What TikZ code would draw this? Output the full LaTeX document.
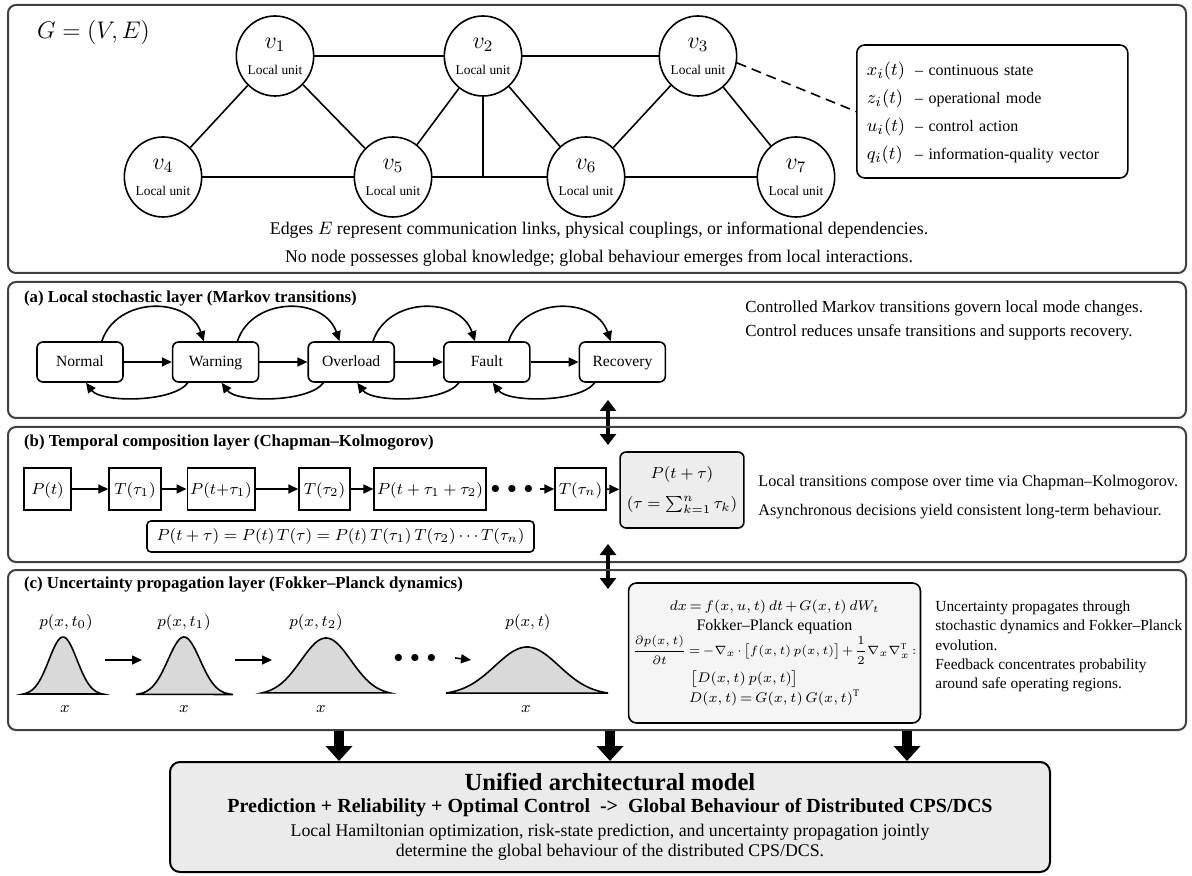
\documentclass[tikz,border=0pt]{standalone}
\usepackage{amsmath}
\usepackage{fontspec}
\setmainfont{Liberation Serif}
\usetikzlibrary{arrows.meta,positioning,shapes.geometric}

\newcommand{\fsize}[2]{\fontsize{#1}{#2}\selectfont}
\newcommand{\unitlabel}[1]{{\fsize{11.5}{12}$v_{#1}$}\\[1pt]{\fsize{6.7}{8}Local unit}}

\begin{document}
\begin{tikzpicture}[
        x=0.5pt, y=-0.5pt,
        panel/.style={
            draw=black!75,
            line width=1pt,
            rounded corners=4pt
        },
        unit/.style={
            draw,
            ellipse,
            line width=0.8pt,
            minimum width=35pt,
            minimum height=40pt,
            inner sep=0pt,
            align=center
        },
        link/.style={
            line width=0.8pt
        },
        heading/.style={
            anchor=west,
            font=\fsize{8.4}{10}\bfseries
        },
        note/.style={
            anchor=west,
            align=left,
            inner sep=0pt,
            font=\fsize{8}{12}
        },
        state/.style={
            draw,
            rounded corners=3pt,
            line width=0.8pt,
            minimum width=43pt,
            minimum height=20pt,
            text height=0.7em,
            text depth=0.2em,
            font=\fsize{7.8}{9}
        },
        cell/.style={
            draw,
            line width=0.7pt,
            minimum height=21pt,
            inner sep=1.5pt,
            text height=0.75em,
            text depth=0.25em,
            font=\fsize{8}{9}
        },
        flow/.style={
            -{Triangle[length=5pt,width=4.5pt]},
            line width=0.8pt
        },
        dbl/.style={
            {Triangle[length=5.5pt,width=8pt]}-{Triangle[length=5.5pt,width=8pt]},
            line width=1.8pt
        },
        bigarrow/.style={
            -{Triangle[length=7.5pt,width=13pt]},
            line width=5pt
        },
        bell/.style={
            fill=black!15,
            draw,
            line width=0.8pt
        },
        plabel/.style={
            font=\fsize{8.5}{10}
        }
    ]

        \fill[white] (0,0) rectangle (1192,876);
        \useasboundingbox (0,0) rectangle (1192,876);

        % network of local units
        \draw[panel] (8,5) rectangle (1186,273);

        \node[anchor=west, font=\fsize{11.5}{13}] (graphname) at (30,33)
            {$G = (V, E)$};

        \node[unit] (v1) at (275,56) {\unitlabel{1}};
        \node[unit] (v2) at (483,56) {\unitlabel{2}};
        \node[unit] (v3) at (698,56) {\unitlabel{3}};
        \node[unit] (v4) at (163,177) {\unitlabel{4}};
        \node[unit] (v5) at (393,177) {\unitlabel{5}};
        \node[unit] (v6) at (586,177) {\unitlabel{6}};
        \node[unit] (v7) at (796,177) {\unitlabel{7}};

        \draw[link] (v1) -- (v2) -- (v3);
        \draw[link] (v4) -- (v5) -- (v6) -- (v7);
        \draw[link] (v1) -- (v4);
        \draw[link] (v1) -- (v5);
        \draw[link] (v2) -- (v5);
        \draw[link] (v2) -- (v6);
        \draw[link] (v3) -- (v6);
        \draw[link] (v3) -- (v7);
        \draw[link] (v2.south) -- (v2.south |- v5.center);

        \node[draw, rounded corners=4pt, line width=0.8pt,
              minimum height=66.5pt, inner xsep=5pt, text width=125.5pt,
              anchor=west, font=\fsize{8}{10}] (legend) at (856,111.5)
            {\noindent\renewcommand{\arraystretch}{1.4}%
             \begin{tabular}{@{}l@{\hspace{5pt}}l@{}}
             {\fsize{9.5}{10}$x_i(t)$} & – continuous state\\
             {\fsize{9.5}{10}$z_i(t)$} & – operational mode\\
             {\fsize{9.5}{10}$u_i(t)$} & – control action\\
             {\fsize{9.5}{10}$q_i(t)$} & – information-quality vector
             \end{tabular}};

        \draw[link, dash pattern=on 5pt off 3pt] (v3.-10) -- (legend.west);

        \node[align=center, font=\fsize{8.9}{14}] (edgesnote) at (599,244)
            {Edges $E$ represent communication links, physical couplings, or informational dependencies.\\
             No node possesses global knowledge; global behaviour emerges from local interactions.};

        % (a) Markov layer
        \draw[panel] (8,282) rectangle (1186,418);

        \node[heading] (atitle) at (17,298)
            {(a) Local stochastic layer (Markov transitions)};

        \node[state] (normal) at (80,362) {Normal};
        \node[state, right=24pt of normal] (warning) {Warning};
        \node[state, right=24pt of warning] (overload) {Overload};
        \node[state, right=24pt of overload] (fault) {Fault};
        \node[state, right=24pt of fault] (recovery) {Recovery};

        \draw[flow] (normal) -- (warning);
        \draw[flow] (warning) -- (overload);
        \draw[flow] (overload) -- (fault);
        \draw[flow] (fault) -- (recovery);

        \draw[flow] ([xshift=-11pt]normal.north east)
            .. controls +(15,-45) and +(-15,-45) .. ([xshift=16pt]warning.north west);
        \draw[flow] ([xshift=-11pt]warning.north east)
            .. controls +(15,-45) and +(-15,-45) .. ([xshift=16pt]overload.north west);
        \draw[flow] ([xshift=-11pt]overload.north east)
            .. controls +(15,-45) and +(-15,-45) .. ([xshift=16pt]fault.north west);
        \draw[flow] ([xshift=-11pt]fault.north east)
            .. controls +(15,-45) and +(-15,-45) .. ([xshift=16pt]recovery.north west);

        \draw[flow] ([xshift=8pt]warning.south west)
            .. controls +(-15,20) and +(15,20) .. ([xshift=3pt]normal.south);
        \draw[flow] ([xshift=8pt]overload.south west)
            .. controls +(-15,20) and +(15,20) .. ([xshift=3pt]warning.south);
        \draw[flow] ([xshift=8pt]fault.south west)
            .. controls +(-15,20) and +(15,20) .. ([xshift=3pt]overload.south);
        \draw[flow] ([xshift=8pt]recovery.south west)
            .. controls +(-15,20) and +(15,20) .. ([xshift=3pt]fault.south);

        \node[note, font=\fsize{8.45}{12}] (anote) at (745,320)
            {Controlled Markov transitions govern local mode changes.\\
             Control reduces unsafe transitions and supports recovery.};

        \coordinate (abup) at (608,400);
        \coordinate (abdown) at (608,445);
        \draw[dbl] (abup) -- (abdown);

        % (b) Chapman-Kolmogorov layer
        \draw[panel] (8,427) rectangle (1186,562);

        \node[heading] (btitle) at (17,443)
            {(b) Temporal composition layer (Chapman–Kolmogorov)};

        \node[cell, minimum width=23.5pt] (pt0) at (47.5,489) {$P(t)$};
        \node[cell, minimum width=26pt] (tau1) at (135,489) {$T(\tau_1)$};
        \node[cell, minimum width=24pt] (pt1) at (221,489) {$P(t{+}\tau_1)$};
        \node[cell, minimum width=25.5pt] (tau2) at (324.5,489) {$T(\tau_2)$};
        \node[cell, minimum width=45pt] (pt2) at (430,489) {$P(t+\tau_1+\tau_2)$};
        \node[font=\fsize{9}{10}] (bdots) at (512,489) {$\bullet\,\bullet\,\bullet$};
        \node[cell, minimum width=25.5pt] (taun) at (580.5,489) {$T(\tau_n)$};
        \node[draw, fill=black!7, rounded corners=3pt, line width=0.8pt,
              minimum width=54pt, minimum height=38pt, align=center,
              font=\fsize{8.5}{12}] (ptau) at (682,490)
            {$P(t+\tau)$\\[3pt] $(\tau = \sum_{k=1}^{n}\tau_k)$};

        \draw[flow] (pt0) -- (tau1);
        \draw[flow] (tau1) -- (pt1);
        \draw[flow] (pt1) -- (tau2);
        \draw[flow] (tau2) -- (pt2);
        \draw[flow] (bdots) -- (taun);
        \draw[flow] (taun) -- (ptau);

        \node[draw, rounded corners=2pt, line width=0.8pt,
              minimum width=193.5pt, minimum height=15.5pt,
              font=\fsize{8.5}{10}] (ckeq) at (340.5,536.5)
            {$P(t+\tau) = P(t)\,T(\tau) = P(t)\,T(\tau_1)\,T(\tau_2)\cdots T(\tau_n)$};

        \node[note, font=\fsize{8.1}{14.5}] (bnote) at (758,497.5)
            {Local transitions compose over time via Chapman–Kolmogorov.\\
             Asynchronous decisions yield consistent long-term behaviour.};

        \coordinate (bcup) at (608,544);
        \coordinate (bcdown) at (608,589);
        \draw[dbl] (bcup) -- (bcdown);

        % (c) Fokker-Planck layer
        \draw[panel] (8,570) rectangle (1186,730);

        \node[heading] (ctitle) at (17,585)
            {(c) Uncertainty propagation layer (Fokker–Planck dynamics)};

        \node[plabel] (pt0lbl) at (66,622) {$p(x,t_0)$};
        \node[plabel] (pt1lbl) at (184,622) {$p(x,t_1)$};
        \node[plabel] (pt2lbl) at (316,622) {$p(x,t_2)$};
        \node[plabel] (ptlbl) at (528,622) {$p(x,t)$};

        \filldraw[bell] plot[domain=23:103, samples=60]
            (\x, {695-58*exp(-0.5*((\x-63)/14)*((\x-63)/14))}) -- cycle;
        \filldraw[bell] plot[domain=136:233, samples=60]
            (\x, {695-58*exp(-0.5*((\x-184)/16)*((\x-184)/16))}) -- cycle;
        \filldraw[bell] plot[domain=262:390, samples=60]
            (\x, {695-57*exp(-0.5*((\x-326)/25)*((\x-326)/25))}) -- cycle;
        \filldraw[bell] plot[domain=446:608, samples=60]
            (\x, {695-48*exp(-0.5*((\x-527)/32)*((\x-527)/32))}) -- cycle;

        \node[plabel] (x0lbl) at (65,709) {$x$};
        \node[plabel] (x1lbl) at (184,709) {$x$};
        \node[plabel] (x2lbl) at (321,709) {$x$};
        \node[plabel] (xtlbl) at (526,709) {$x$};

        \coordinate (c0out) at (105,660);
        \coordinate (c1in) at (142,660);
        \coordinate (c1out) at (235,660);
        \coordinate (c2in) at (272,660);
        \coordinate (ctin) at (471,660);
        \node[font=\fsize{9}{10}] (cdots) at (415,658) {$\bullet\,\bullet\,\bullet$};

        \draw[flow] (c0out) -- (c1in);
        \draw[flow] (c1out) -- (c2in);
        \draw[flow] ([xshift=6pt]cdots.east) -- (ctin);

        \node[draw, fill=black!4, rounded corners=4pt, line width=0.8pt,
              minimum width=144.5pt, minimum height=70pt, align=center,
              inner sep=2pt,
              font={\fsize{7}{9}\medmuskip=2mu\thickmuskip=3mu}] (fpeq) at (774.5,653)
            {$dx = f(x,u,t)\,dt + G(x,t)\,dW_t$\\[1pt]
             {\fsize{8}{10}Fokker–Planck equation}\\
             {\fsize{6.3}{8}$\dfrac{\partial p(x,t)}{\partial t} = -\nabla_x\cdot\big[f(x,t)\,p(x,t)\big] + \dfrac{1}{2}\nabla_x\nabla_x^{\mathrm{T}}:$}\\[2pt]
             \hspace*{-30pt}$\big[D(x,t)\,p(x,t)\big]$\\[1pt]
             $D(x,t) = G(x,t)\,G(x,t)^{\mathrm{T}}$};

        \node[note, font=\fsize{7.7}{9.7}] (cnote) at (935,646.5)
            {Uncertainty propagates through\\
             stochastic dynamics and Fokker–Planck\\
             evolution.\\
             Feedback concentrates probability\\
             around safe operating regions.};

        % unified model
        \node[draw, fill=black!8, rounded corners=5pt, line width=1pt,
              minimum width=440pt, minimum height=55pt, align=center,
              font=\fsize{8.9}{10}] (unified) at (610,817)
            {{\fsize{12.3}{14}\bfseries Unified architectural model}\\[1pt]
             {\fsize{10}{13}\bfseries Prediction + Reliability + Optimal Control\ \ ->\ \ Global Behaviour of Distributed CPS/DCS}\\[2pt]
             Local Hamiltonian optimization, risk-state prediction, and uncertainty propagation jointly\\
             determine the global behaviour of the distributed CPS/DCS.};

        \coordinate (feedl) at (339,731);
        \coordinate (feedm) at (610,731);
        \coordinate (feedr) at (907,731);
        \draw[bigarrow] (feedl) -- (feedl |- unified.north);
        \draw[bigarrow] (feedm) -- (feedm |- unified.north);
        \draw[bigarrow] (feedr) -- (feedr |- unified.north);

    \end{tikzpicture}
\end{document}
